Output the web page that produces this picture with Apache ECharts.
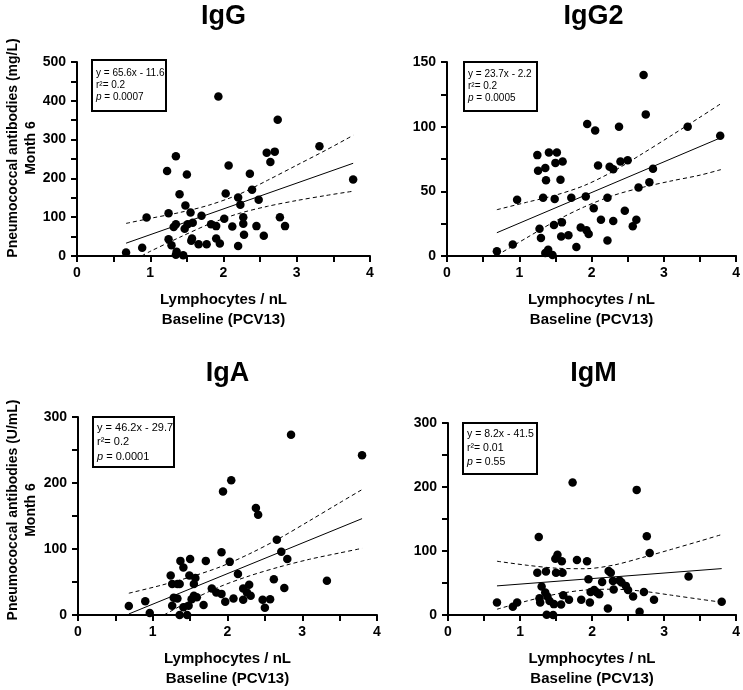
<!DOCTYPE html>
<html>
<head>
<meta charset="utf-8">
<script src="https://cdn.jsdelivr.net/npm/echarts@6/dist/echarts.min.js"></script>
<style>
html,body{margin:0;padding:0;background:#fff;}
#chart{width:743px;height:690px;}
</style>
</head>
<body>
<div id="chart"></div>
<script>
// ---------- data ----------
const xTicks = [0, 1, 2, 3, 4];

const iggPoints = [[0.67,9],[0.89,21],[0.95,99],[1.23,219],[1.25,110],[1.25,43],[1.29,28],[1.32,75],[1.35,82],[1.35,257],[1.36,11],[1.35,3],[1.45,2],[1.4,159],[1.48,130],[1.5,210],[1.47,70],[1.51,82],[1.55,112],[1.58,86],[1.57,45],[1.56,39],[1.66,30],[1.7,104],[1.77,30],[1.83,82],[1.9,77],[1.9,45],[1.93,411],[1.95,32],[2.01,96],[2.03,161],[2.07,233],[2.12,76],[2.2,151],[2.2,26],[2.23,132],[2.27,100],[2.27,83],[2.28,55],[2.36,212],[2.39,171],[2.45,77],[2.48,145],[2.55,52],[2.59,266],[2.64,242],[2.7,269],[2.74,351],[2.77,100],[2.84,77],[3.31,283],[3.77,197]];
const iggFit = [[0.67,33],[3.77,239]];
const iggUpper = [[0.67,84],[1.0,97],[1.4,112],[1.8,131],[2.2,158],[2.6,195],[3.0,234],[3.4,273],[3.77,311]];
const iggLower = [[0.88,0],[1.0,12],[1.4,48],[1.8,82],[2.2,109],[2.6,128],[3.0,143],[3.4,156],[3.77,167]];
const iggStats = ['y = 65.6x - 11.6', '0.2', '0.0007'];

const igg2Points = [[0.69,3.6],[0.91,8.8],[0.97,43.5],[1.25,78],[1.26,66],[1.28,21],[1.3,14],[1.33,45],[1.36,68],[1.37,58.5],[1.36,2.3],[1.4,4.9],[1.46,0.8],[1.41,80],[1.49,44],[1.48,24],[1.5,72],[1.52,80],[1.57,59],[1.6,73],[1.59,26],[1.58,15],[1.68,16],[1.72,45],[1.79,7],[1.85,22],[1.92,46],[1.94,102],[1.93,20],[1.96,17],[2.03,37],[2.05,97],[2.09,70],[2.13,28],[2.22,45],[2.22,12],[2.25,69],[2.3,67],[2.3,27],[2.38,100],[2.4,73],[2.46,35],[2.5,74],[2.57,23],[2.62,28],[2.65,53],[2.72,140],[2.75,109.5],[2.8,57],[2.85,67.5],[3.33,100],[3.78,93]];
const igg2Fit = [[0.69,18],[3.79,91.5]];
const igg2Upper = [[0.69,35.8],[1.1,41.5],[1.5,47],[1.9,54.5],[2.3,65.5],[2.7,79],[3.1,93],[3.5,107.3],[3.79,117.8]];
const igg2Lower = [[0.69,0.5],[1.1,14],[1.5,27],[1.9,38],[2.3,46.8],[2.7,53],[3.1,58],[3.5,62.5],[3.79,66.8]];
const igg2Stats = ['y = 23.7x - 2.2', '0.2', '0.0005'];

const igaPoints = [[0.68,13.6],[0.9,21],[0.96,3],[1.24,60],[1.26,47],[1.26,14],[1.28,26],[1.33,25],[1.33,47],[1.36,47],[1.37,82],[1.36,0],[1.41,72],[1.41,11.6],[1.46,0],[1.48,14],[1.49,60],[1.5,85],[1.52,24],[1.55,47],[1.55,29],[1.57,56],[1.59,27],[1.68,15],[1.71,82],[1.79,40],[1.85,34],[1.92,32],[1.92,95],[1.94,187],[1.97,20],[2.03,80.5],[2.05,204],[2.08,25],[2.14,62],[2.21,40],[2.21,23],[2.26,34],[2.29,46],[2.31,29],[2.38,162],[2.41,152],[2.47,23],[2.5,11],[2.57,24],[2.62,54],[2.66,114],[2.72,96],[2.76,41],[2.8,85],[2.85,273],[3.33,52],[3.8,242]];
const igaFit = [[0.68,1.6],[3.8,146]];
const igaUpper = [[0.68,33],[1.1,44.7],[1.5,57.5],[1.9,72.8],[2.3,93],[2.7,116.5],[3.1,143],[3.5,170],[3.8,190]];
const igaLower = [[1.15,0],[1.5,21.5],[1.9,43],[2.3,59.5],[2.7,73],[3.1,84.5],[3.5,94],[3.8,101]];
const igaStats = ['y = 46.2x - 29.7', '0.2', '0.0001'];

const igmPoints = [[0.68,19.7],[0.9,13],[0.96,19.7],[1.24,66],[1.26,122],[1.27,26],[1.28,19.7],[1.3,44.5],[1.35,35],[1.36,68],[1.37,0.5],[1.38,29],[1.41,22],[1.46,0],[1.47,17],[1.49,88],[1.5,66],[1.52,94],[1.57,16.5],[1.58,84],[1.59,66],[1.6,31],[1.68,24],[1.73,207],[1.79,86],[1.85,24],[1.93,84],[1.95,56],[1.97,19.7],[1.98,36],[2.03,39],[2.07,35],[2.1,32.6],[2.14,51.7],[2.22,10],[2.23,68.8],[2.26,66],[2.29,53],[2.3,40],[2.38,54],[2.41,50.7],[2.47,45.5],[2.5,39],[2.57,29],[2.62,195.5],[2.66,5],[2.72,36],[2.76,123],[2.8,97],[2.86,24],[3.34,60],[3.8,20.7]];
const igmFit = [[0.68,45.5],[3.8,72.5]];
const igmUpper = [[0.68,84],[1.1,77.7],[1.5,73.2],[1.9,72.3],[2.3,78],[2.7,89.8],[3.1,102.5],[3.5,115.6],[3.8,125.7]];
const igmLower = [[0.68,9],[1.1,22],[1.5,32.5],[1.9,39],[2.3,40.3],[2.7,37.2],[3.1,31],[3.5,24.6],[3.8,20]];
const igmStats = ['y = 8.2x - 41.5', '0.01', '0.55'];

const panelTitles = ['IgG', 'IgG2', 'IgA', 'IgM'];
const yMaxes = [500, 150, 300, 300];
const yIntervals = [100, 50, 100, 100];
const yNames = ['Pneumococcal antibodies (mg/L)', 'Pneumococcal antibodies (U/mL)'];
const yName2 = 'Month 6';
const xNameLines = ['Lymphocytes / nL', 'Baseline (PCV13)'];

// ---------- layout ----------
const FONT = '"Liberation Sans", Arial, Helvetica, sans-serif';
const grids = [
  {left: 77, top: 62, width: 293, height: 194},
  {left: 447, top: 62, width: 293, height: 194},
  {left: 78, top: 417, width: 299, height: 199},
  {left: 448, top: 423, width: 291, height: 193}
];
const boxes = [
  {x: 92, y: 60, w: 74, h: 51, fs: 10, lh: 12},
  {x: 464, y: 62, w: 73, h: 49, fs: 10, lh: 12},
  {x: 93, y: 417, w: 81, h: 50, fs: 11, lh: 14.5},
  {x: 463, y: 423, w: 74, h: 51, fs: 10.5, lh: 14}
];
const titleY = [17, 17, 374, 374];

const panels = [
  {pts: iggPoints, fit: iggFit, up: iggUpper, lo: iggLower, stats: iggStats},
  {pts: igg2Points, fit: igg2Fit, up: igg2Upper, lo: igg2Lower, stats: igg2Stats},
  {pts: igaPoints, fit: igaFit, up: igaUpper, lo: igaLower, stats: igaStats},
  {pts: igmPoints, fit: igmFit, up: igmUpper, lo: igmLower, stats: igmStats}
];

const axisCommon = {
  axisLine: {show: true, onZero: false, lineStyle: {color: '#000', width: 2}},
  axisTick: {show: true, inside: false, length: 6, lineStyle: {color: '#000', width: 2}},
  minorTick: {show: true, splitNumber: 2, length: 6, lineStyle: {color: '#000', width: 2}},
  splitLine: {show: false},
  axisLabel: {color: '#000', fontFamily: FONT, fontWeight: 'bold', fontSize: 14}
};

const xAxes = [], yAxes = [], series = [], graphics = [];
panels.forEach((p, i) => {
  xAxes.push(Object.assign({}, axisCommon, {
    type: 'value', gridIndex: i, min: xTicks[0], max: xTicks[xTicks.length - 1], interval: 1,
    axisLabel: Object.assign({}, axisCommon.axisLabel, {margin: 10}),
    name: xNameLines.join('\n'), nameLocation: 'middle', nameGap: 34,
    nameTextStyle: {color: '#000', fontFamily: FONT, fontWeight: 'bold', fontSize: 15, lineHeight: 20}
  }));
  yAxes.push(Object.assign({}, axisCommon, {
    type: 'value', gridIndex: i, min: 0, max: yMaxes[i], interval: yIntervals[i],
    axisLabel: Object.assign({}, axisCommon.axisLabel, {margin: 11})
  }));
  const dashed = {color: '#000', width: 1, type: [4, 3]};
  series.push({type: 'line', xAxisIndex: i, yAxisIndex: i, data: p.up, smooth: 0.3, symbol: 'none', lineStyle: dashed, silent: true, z: 2});
  series.push({type: 'line', xAxisIndex: i, yAxisIndex: i, data: p.lo, smooth: 0.3, symbol: 'none', lineStyle: dashed, silent: true, z: 2});
  series.push({type: 'line', xAxisIndex: i, yAxisIndex: i, data: p.fit, symbol: 'none', lineStyle: {color: '#000', width: 1}, silent: true, z: 2});
  series.push({type: 'scatter', xAxisIndex: i, yAxisIndex: i, data: p.pts, symbol: 'circle', symbolSize: 8.5, itemStyle: {color: '#000', opacity: 1}, clip: false, z: 3});

  const g = grids[i];
  graphics.push({type: 'text', x: g.left + g.width / 2, y: titleY[i],
    style: {text: panelTitles[i], align: 'center', verticalAlign: 'middle', font: 'bold 27px ' + FONT, fill: '#000'}});

  const b = boxes[i];
  graphics.push({type: 'rect', shape: {x: b.x, y: b.y, width: b.w, height: b.h}, style: {fill: '#fff', stroke: '#000', lineWidth: 2}, z: 10});
  graphics.push({type: 'text', x: b.x + 4, y: b.y + (b.h - 3 * b.lh) / 2 + b.lh / 2, z: 11,
    style: {text: p.stats[0], align: 'left', verticalAlign: 'middle', font: b.fs + 'px ' + FONT, fill: '#000'}});
  graphics.push({type: 'text', x: b.x + 4, y: b.y + (b.h - 3 * b.lh) / 2 + b.lh * 1.5, z: 11,
    style: {text: 'r\u00b2= ' + p.stats[1], align: 'left', verticalAlign: 'middle', font: b.fs + 'px ' + FONT, fill: '#000'}});
  graphics.push({type: 'text', x: b.x + 4, y: b.y + (b.h - 3 * b.lh) / 2 + b.lh * 2.5, z: 11,
    style: {text: '{i|p} = ' + p.stats[2], align: 'left', verticalAlign: 'middle', font: b.fs + 'px ' + FONT, fill: '#000',
      rich: {i: {fontStyle: 'italic', fontSize: b.fs, fontFamily: FONT, fill: '#000'}}}});
});

// y axis names (left column only)
[[148, 0], [510, 1]].forEach(([cy, k]) => {
  graphics.push({type: 'text', x: 13, y: cy, rotation: Math.PI / 2,
    style: {text: yNames[k], align: 'center', verticalAlign: 'middle', font: 'bold 14px ' + FONT, fill: '#000'}});
  graphics.push({type: 'text', x: 31, y: cy, rotation: Math.PI / 2,
    style: {text: yName2, align: 'center', verticalAlign: 'middle', font: 'bold 14px ' + FONT, fill: '#000'}});
});

const chart = echarts.init(document.getElementById('chart'), null, {renderer: 'canvas'});
chart.setOption({
  animation: false,
  backgroundColor: '#fff',
  grid: grids,
  xAxis: xAxes,
  yAxis: yAxes,
  series: series,
  graphic: graphics
});
</script>
</body>
</html>
